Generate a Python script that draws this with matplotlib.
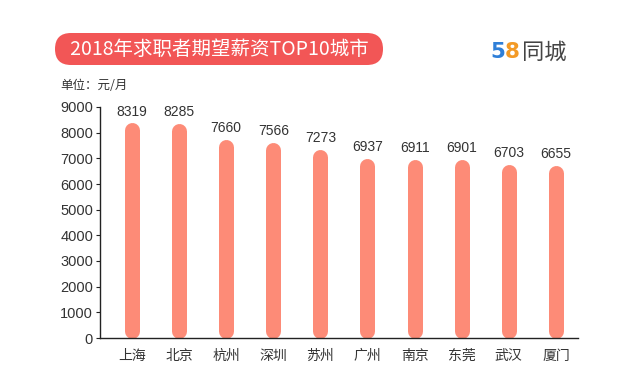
import matplotlib.pyplot as plt
from matplotlib.patches import FancyBboxPatch

plt.rcParams['font.family'] = ['Noto Sans CJK SC', 'DejaVu Sans']

cities = ['上海', '北京', '杭州', '深圳', '苏州', '广州', '南京', '东莞', '武汉', '厦门']
salary = [8319, 8285, 7660, 7566, 7273, 6937, 6911, 6901, 6703, 6655]
yticks = [0, 1000, 2000, 3000, 4000, 5000, 6000, 7000, 8000, 9000]

W, H = 634, 389
fig = plt.figure(figsize=(W / 100, H / 100), dpi=100)
ax = fig.add_axes([100 / W, 1 - 338 / H, 478 / W, 231 / H])

bar_px = 15
r = bar_px / 2 / 231 * 9000   # cap radius in data units
for i, v in enumerate(salary):
    ax.plot([i, i], [r, v - r + 60], color='#fd8b77', lw=bar_px * 0.72,
            solid_capstyle='round', zorder=2)
    ax.text(i, v + 230, str(v), ha='center', va='bottom', fontsize=10, color='#333333',
            family=['Liberation Sans', 'DejaVu Sans'])

ax.set_xlim(-0.68, 9.47)
ax.set_ylim(0, 9000)
ax.set_yticks(yticks)
ax.set_yticklabels([str(t) for t in yticks], family=['Liberation Sans', 'DejaVu Sans'])
ax.set_xticks(range(len(cities)))
ax.set_xticklabels(cities)
ax.tick_params(axis='x', length=0, pad=8, labelsize=10, colors='#333333')
ax.tick_params(axis='y', length=3, pad=2, labelsize=10.5, colors='#333333')
ax.tick_params(axis='both', color='#222222')
for s in ['top', 'right']:
    ax.spines[s].set_visible(False)
for s in ['left', 'bottom']:
    ax.spines[s].set_color('#222222')
    ax.spines[s].set_linewidth(1)

# overlay in pixel coordinates for header elements
ov = fig.add_axes([0, 0, 1, 1], zorder=-1)
ov.set_xlim(0, W)
ov.set_ylim(H, 0)
ov.axis('off')

pill = FancyBboxPatch((55, 33), 328, 32, boxstyle='round,pad=0,rounding_size=16',
                      facecolor='#f25656', edgecolor='none')
ov.add_patch(pill)
ov.text(219, 49, '•  2018年求职者期望薪资TOP10城市  •', ha='center', va='center',
        fontsize=14, color='white')

ov.text(60, 85, '单位：元/月', ha='left', va='center', fontsize=9, color='#333333')

# logo
ov.text(490, 52, '5', ha='left', va='center', fontsize=15.5, color='#2f7fd8',
        fontweight='bold', family=['DejaVu Sans'])
ov.text(505, 52, '8', ha='left', va='center', fontsize=15.5, color='#f39a26',
        fontweight='bold', family=['DejaVu Sans'])
ov.text(522, 52, '同城', ha='left', va='center', fontsize=16, color='#444444')

fig.savefig('out.png', dpi=100)
